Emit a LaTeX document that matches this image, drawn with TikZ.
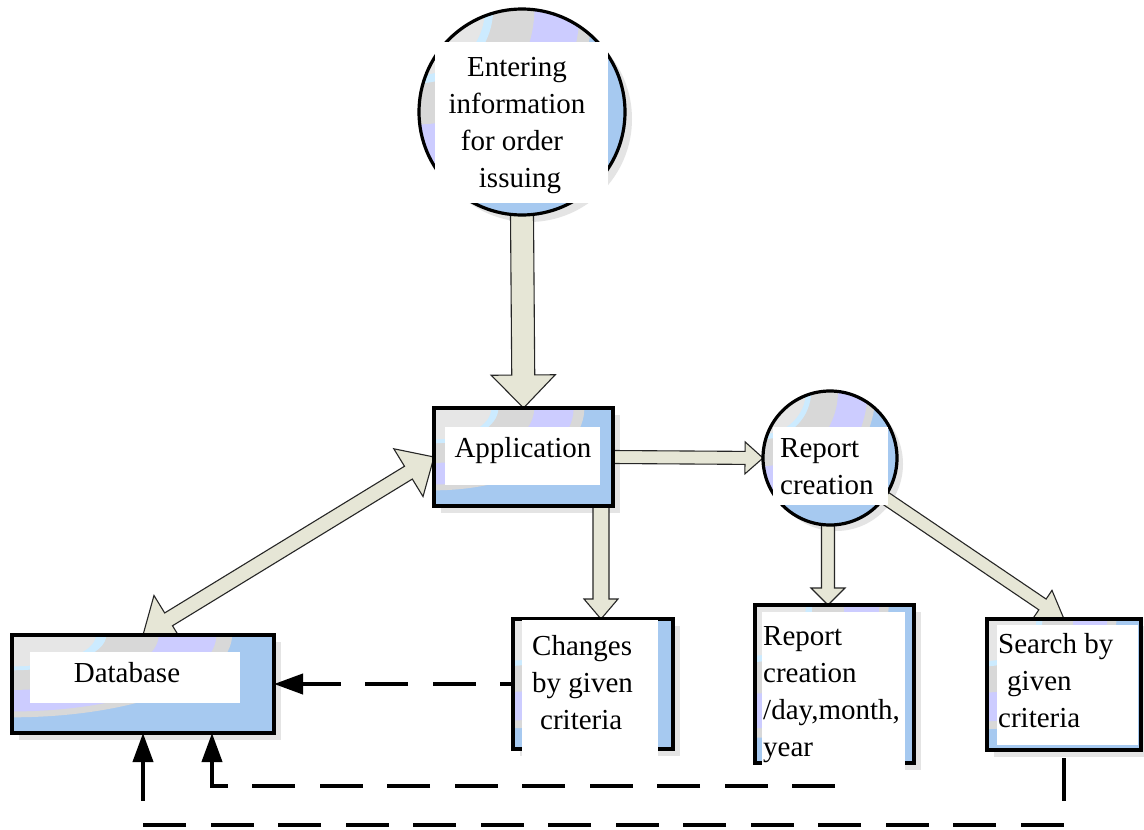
\documentclass[tikz,border=0pt]{standalone}
\usepackage{fontspec}
\setmainfont{Liberation Serif}
\usetikzlibrary{calc,arrows.meta}

\definecolor{bodyblue}{HTML}{A6C9F0}
\definecolor{bandgray}{HTML}{D8D8D8}
\definecolor{bandlav}{HTML}{CCCCFF}
\definecolor{bandcyan}{HTML}{CCEBFF}
\definecolor{bandlight}{HTML}{E6E6E6}
\definecolor{shadowgray}{HTML}{E4E4E4}
\definecolor{arrowfill}{HTML}{E6E6D6}

% concentric elliptic colour bands anchored at a corner (#1), scaled to #2 x #3
\newcommand\bandfill[3]{%
  \foreach \bandrad/\bandcol in {0.84/bandgray,0.78/bandlav,0.56/bandgray,0.36/bandcyan,0.32/bandlight}{%
    \fill[\bandcol] (#1) ellipse [x radius={\bandrad*#2pt}, y radius={\bandrad*#3pt}];}%
}
% rectangular process box: fill, bands and outline
\newcommand\boxbody[3]{%
  \begin{scope}
    \clip (#1.north west) rectangle (#1.south east);
    \fill[bodyblue] (#1.north west) rectangle (#1.south east);
    \bandfill{#1.north west}{#2}{#3}
  \end{scope}
  \draw[outline] (#1.north west) rectangle (#1.south east);
}
% round process: fill, bands and outline (#2 = radius)
\newcommand\circbody[2]{%
  \coordinate (#1-nw) at (#1.west |- #1.north);
  \begin{scope}
    \clip (#1.center) circle[radius=#2pt];
    \fill[bodyblue] (#1.center) circle[radius=#2pt];
    \bandfill{#1-nw}{2*#2}{2*#2}
  \end{scope}
  \draw[outline] (#1.center) circle[radius=#2pt];
}
% block arrow: start, end, shaft half-width, head half-width, head length
\newcommand\fatarrow[5]{%
  \coordinate (fa-h) at ($(#2)!#5!(#1)$);
  \draw[fatline] ($(#1)!#3!90:(#2)$) -- ($(fa-h)!#3!90:(#2)$) -- ($(fa-h)!#4!90:(#2)$)
    -- (#2) -- ($(fa-h)!#4!-90:(#2)$) -- ($(fa-h)!#3!-90:(#2)$) -- ($(#1)!#3!-90:(#2)$) -- cycle;
}
% double-headed block arrow
\newcommand\fatdarrow[5]{%
  \coordinate (fa-h) at ($(#2)!#5!(#1)$);
  \coordinate (fa-t) at ($(#1)!#5!(#2)$);
  \draw[fatline] (#1) -- ($(fa-t)!#4!90:(#2)$) -- ($(fa-t)!#3!90:(#2)$) -- ($(fa-h)!#3!90:(#2)$)
    -- ($(fa-h)!#4!90:(#2)$) -- (#2) -- ($(fa-h)!#4!-90:(#2)$) -- ($(fa-h)!#3!-90:(#2)$)
    -- ($(fa-t)!#3!-90:(#2)$) -- ($(fa-t)!#4!-90:(#2)$) -- cycle;
}

\begin{document}
\begin{tikzpicture}[x=1pt, y=-1pt,
  font=\fontsize{29}{37}\selectfont,
  boxshape/.style={rectangle, inner sep=0pt, outer sep=0pt},
  circshape/.style={circle, inner sep=0pt, outer sep=0pt},
  outline/.style={draw=black, line width=3.2pt},
  fatline/.style={fill=arrowfill, draw=black!85, line width=1.1pt, line join=miter},
  dashline/.style={draw=black, line width=4pt, dash pattern=on 43pt off 24.5pt,
                   -{Triangle[length=29pt,width=20pt]}},
  txt/.style={inner sep=0pt, align=left, anchor=north west},
]
\fill[white] (0,0) rectangle (1144,830);
\useasboundingbox (0,0) rectangle (1144,830);

% process shapes
\path node[circshape, minimum size=206pt] (enter) at (522,112) {}
      node[boxshape, minimum width=179pt, minimum height=98pt] (app) at (523.5,457) {}
      node[circshape, minimum size=134pt] (rep) at (830,458) {}
      node[boxshape, minimum width=262pt, minimum height=98pt] (db) at (143,684) {}
      node[boxshape, minimum width=160pt, minimum height=130pt] (changes) at (593,684) {}
      node[boxshape, minimum width=159pt, minimum height=158pt] (rbox) at (834.5,684) {}
      node[boxshape, minimum width=154pt, minimum height=131pt] (search) at (1064,684.5) {};

% drop shadows
\foreach \n in {app,db,changes,rbox,search}
  \fill[shadowgray] ([shift={(7pt,-7pt)}]\n.north west) rectangle ([shift={(7pt,-7pt)}]\n.south east);
\fill[shadowgray] ([shift={(7pt,-7pt)}]enter.center) circle[radius=103pt];
\fill[shadowgray] ([shift={(6pt,-6pt)}]rep.center) circle[radius=67pt];

% block arrows
\coordinate (a1) at ([xshift=-12pt]app.south east);
\coordinate (a2) at (a1 |- changes.north);
\coordinate (r1) at ([xshift=-2pt]rep.south);
\coordinate (r2) at (r1 |- rbox.north);
\fatarrow{enter.south}{app.north}{11.5pt}{32pt}{33pt}
\fatarrow{app.east}{rep.west}{6.5pt}{16pt}{18pt}
\fatarrow{a1}{a2}{8pt}{17pt}{20pt}
\fatarrow{r1}{r2}{6.5pt}{17pt}{17pt}
\fatarrow{rep.-36}{search.north}{6.5pt}{17pt}{26pt}
\fatdarrow{db.north}{app.west}{7.5pt}{28pt}{30pt}

% shape bodies
\circbody{enter}{103}
\circbody{rep}{67}
\boxbody{app}{179}{98}
\boxbody{db}{262}{98}
\boxbody{changes}{160}{130}
\boxbody{rbox}{159}{158}
\boxbody{search}{154}{131}

% white text panels
\fill[white] (435,42) rectangle (608,203);
\fill[white] (445,427) rectangle (600,485);
\fill[white] (773,427) rectangle (888,505);
\fill[white] (30,652) rectangle (240,703);
\fill[white] (522,620) rectangle (658,758);
\fill[white] (762,612) rectangle (905,772);
\fill[white] (997,625) rectangle (1138,745);

% texts
\node[inner sep=0pt, align=center, anchor=north] (t-enter) at (517,57.5)
  {Entering\\information\\for order\rule{10pt}{0pt}\\\rule{6pt}{0pt}issuing};
\node[anchor=base, inner sep=0pt] (t-app) at (523,457) {Application};
\node[txt] (t-rep) at (780,438) {Report\\creation};
\node[anchor=base, inner sep=0pt] (t-db) at (127,682) {Database};
\node[txt] (t-changes) at (532,635.5) {Changes\\by given\\\rule{8pt}{0pt}criteria};
\node[txt] (t-rbox) at (763,626) {Report\\creation\\/day,month,\\year};
\node[txt] (t-search) at (998,633.5) {Search by\\\rule{9pt}{0pt}given\\criteria};

% dashed data links into the database
\draw[dashline, dash phase=30pt] (changes.west) -- (db.east);
\coordinate (tail) at (835,786);
\coordinate (d2) at ([xshift=69pt]db.south);
\draw[dashline] (tail) -- (tail -| d2) -- (d2);
\coordinate (s1) at ([yshift=-8pt]search.south);
\coordinate (lowline) at (0,825);
\draw[dashline] (s1) -- (s1 |- lowline) -- (db.south |- lowline) -- (db.south);
\end{tikzpicture}
\end{document}
